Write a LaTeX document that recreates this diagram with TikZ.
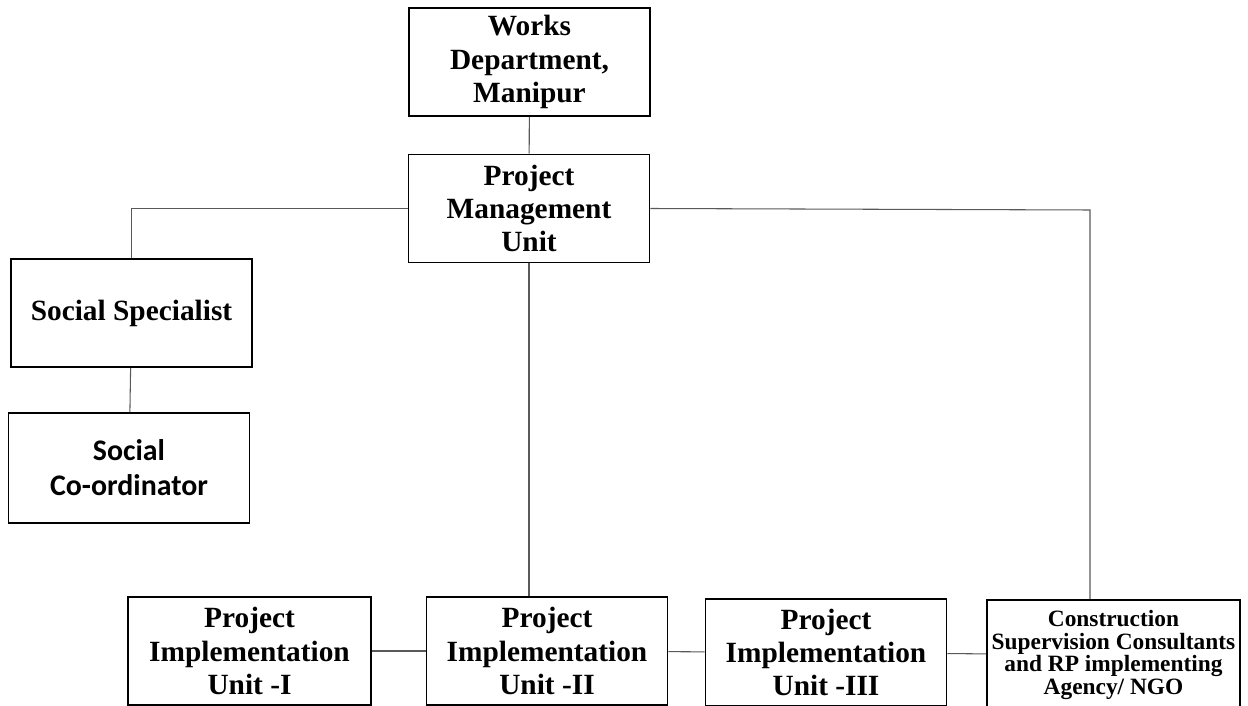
\documentclass[tikz,border=0pt]{standalone}
\usepackage{fontspec}
\setmainfont{Liberation Serif}
\newfontfamily\calibri{Carlito}
\usetikzlibrary{positioning}

\begin{document}
\begin{tikzpicture}
  [every node/.style={draw,line width=1.1pt,rectangle,align=center,inner sep=2pt,
     font=\bfseries\fontsize{16.7}{19}\selectfont},
   unit/.style={minimum width=4.82cm,minimum height=2.16cm},
   link/.style={draw=black!65,line width=0.6pt}]
  \useasboundingbox (0,0) rectangle (24.96,-14.12);
  \node[unit] (works) at (10.59,-1.24) {Works\\Department,\\Manipur};
  \node[unit] (pmu) at (10.58,-4.17) {Project\\Management\\Unit};
  \node[unit] (socspec) at (2.63,-6.26) {Social Specialist};
  \node[unit,minimum height=2.2cm,font=\calibri\bfseries\fontsize{17}{20}\selectfont]
    (soccoord) at (2.58,-9.36) {Social\\Co-ordinator};
  \node[unit,minimum width=4.86cm] (piu1) at (4.99,-13.02) {Project\\Implementation\\Unit -I};
  \node[unit] (piu2) at (10.94,-13.02) {Project\\Implementation\\Unit -II};
  \node[unit,minimum height=2.14cm] (piu3) at (16.52,-13.05) {Project\\Implementation\\Unit -III};
  \node[unit,minimum width=5.06cm,minimum height=2.2cm,font=\bfseries\fontsize{13.3}{13}\selectfont]
    (csc) at (22.27,-13.1) {Construction\\Supervision Consultants\\and RP implementing\\Agency/ NGO};
  \coordinate (rjoint) at (21.8,-4.2);

   \foreach \from/\to in {works/pmu,socspec/soccoord,piu1/piu2,piu2/piu3,piu3/csc}
    \draw[link] (\from) -- (\to);
   \draw[link] (pmu.south) -- (pmu.south |- piu2.north);
   \draw[link] (pmu.west) -| (socspec.north);
   \draw[link] (pmu.east) -- (rjoint) -- (rjoint |- csc.north);
\end{tikzpicture}
\end{document}
